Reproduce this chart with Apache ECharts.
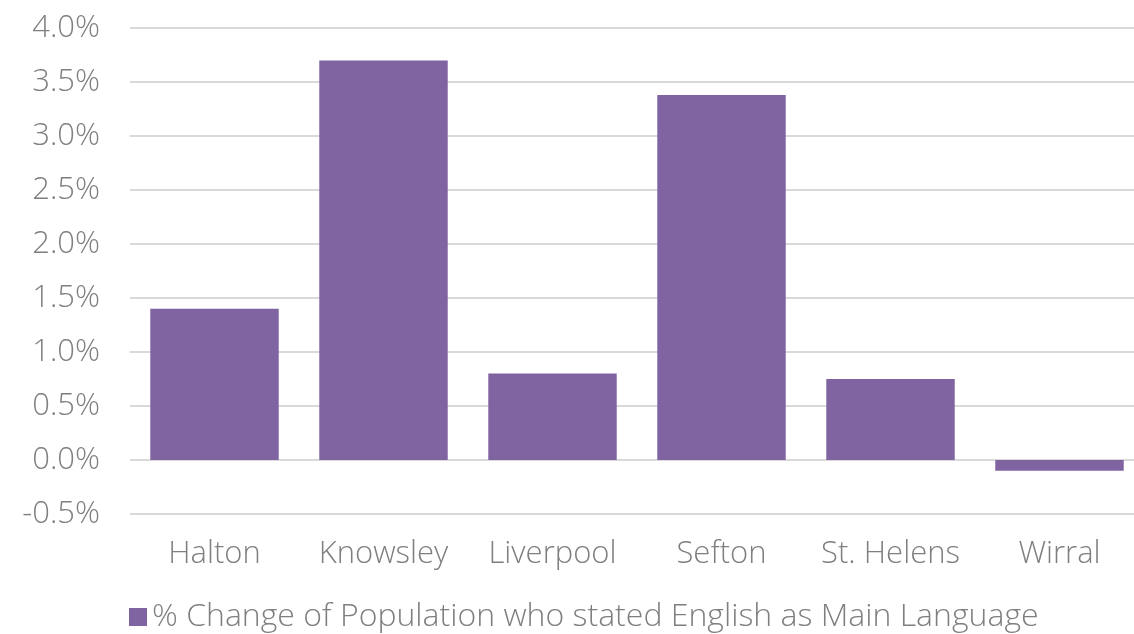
<!DOCTYPE html>
<html><head><meta charset="utf-8">
<script src="https://cdn.jsdelivr.net/npm/echarts@6/dist/echarts.min.js"></script>
<style>html,body{margin:0;padding:0;background:#fff}#c{width:1134px;height:634px}</style>
</head><body><div id="c"></div>
<script>
const categories = ["Halton","Knowsley","Liverpool","Sefton","St. Helens","Wirral"];
const values = [1.40, 3.70, 0.80, 3.38, 0.75, -0.10];
const seriesName = "% Change of Population who stated English as Main Language";
const FONT = "Open Sans";
const chart = echarts.init(document.getElementById('c'));
chart.setOption({
  animation:false,
  grid:{left:130, width:1014, top:28, height:486, containLabel:false, outerBoundsMode:'none'},
  legend:{show:true, left:124, top:596, icon:'rect', itemWidth:18, itemHeight:18, itemGap:8,
    textStyle:{color:'#7f7f7f', fontSize:32, fontWeight:300, fontFamily:FONT, padding:[0,0,0,0]}},
  xAxis:{type:'category', data:categories,
    axisLine:{show:false}, axisTick:{show:false},
    axisLabel:{color:'#7f7f7f', fontSize:31, fontWeight:300, fontFamily:FONT, margin:25, interval:0}},
  yAxis:{type:'value', min:-0.5, max:4.0, interval:0.5,
    axisLine:{show:false}, axisTick:{show:false},
    splitLine:{lineStyle:{color:'#d9d9d9', width:2}},
    axisLabel:{color:'#7f7f7f', fontSize:31, fontWeight:300, fontFamily:FONT, margin:30,
      formatter:v=>v.toFixed(1)+'%'}},
  series:[{name:seriesName, type:'bar', data:values, barCategoryGap:'24%',
    itemStyle:{color:'#8064A2'}}]
});
</script></body></html>
